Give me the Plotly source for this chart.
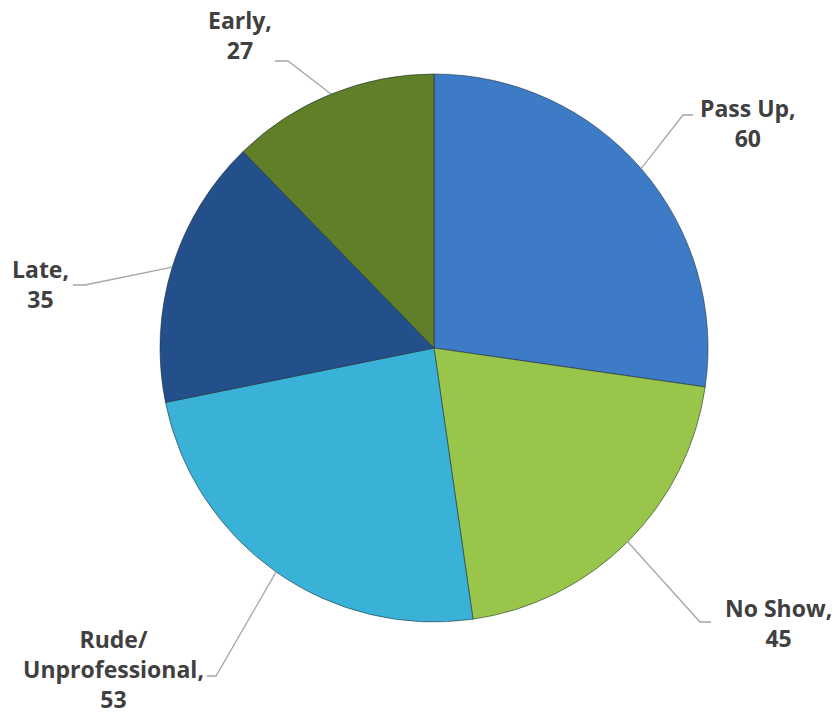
import math
import plotly.graph_objects as go

# Complaint categories and counts
categories = ["Pass Up", "No Show", "Rude/<br>Unprofessional", "Late", "Early"]
counts = [60, 45, 53, 35, 27]
slice_colors = ["#3e7bc6", "#98c54a", "#3ab1d6", "#23508a", "#5f7f28"]

W, H = 839, 717
CX, CY, R = 434, 348, 274  # pie centre and radius in pixels

# Label placement (pixel space): text centre, leader elbow, leader end
label_pos = [(748, 123), (778, 623), (113, 669), (40, 284), (240, 35)]
elbow_pos = [(683, 115), (700, 622), (216, 676), (85, 285), (288, 61)]
end_pos = [(693, 115), (711, 622), (207, 676), (73, 285), (275, 61)]

fig = go.Figure()

fig.add_trace(go.Pie(
    labels=categories,
    values=counts,
    sort=False,
    direction="clockwise",
    rotation=0,
    marker=dict(colors=slice_colors, line=dict(color="rgba(30,40,50,0.55)", width=1)),
    textinfo="none",
    hoverinfo="label+value",
    showlegend=False,
    domain=dict(x=[(CX - R) / W, (CX + R) / W],
                y=[(H - CY - R) / H, (H - CY + R) / H]),
))

# Pixel-space overlay axes for leader lines and labels
fig.update_xaxes(range=[0, W], visible=False, fixedrange=True)
fig.update_yaxes(range=[H, 0], visible=False, fixedrange=True)
fig.add_trace(go.Scatter(x=[0, W], y=[0, H], mode="markers",
                         marker=dict(opacity=0), hoverinfo="skip", showlegend=False))

total = sum(counts)
cum = 0
for i, (cat, val) in enumerate(zip(categories, counts)):
    mid = (cum + val / 2) / total * 2 * math.pi
    cum += val
    sx = CX + R * math.sin(mid)
    sy = CY - R * math.cos(mid)
    ex, ey = elbow_pos[i]
    tx, ty = end_pos[i]
    fig.add_shape(type="path", xref="x", yref="y",
                  path=f"M {sx:.1f} {sy:.1f} L {ex} {ey} L {tx} {ty}",
                  line=dict(color="#a6a6a6", width=1.3))
    lx, ly = label_pos[i]
    fig.add_annotation(x=lx, y=ly, xref="x", yref="y", showarrow=False,
                       text=f"{cat},<br>{val}", align="center",
                       xanchor="center", yanchor="middle",
                       font=dict(family="Open Sans", size=23, color="#404040",
                                 weight="bold"))

fig.update_layout(
    width=W, height=H,
    margin=dict(l=0, r=0, t=0, b=0),
    paper_bgcolor="white",
    plot_bgcolor="rgba(0,0,0,0)",
)

fig.write_html("out.html")
